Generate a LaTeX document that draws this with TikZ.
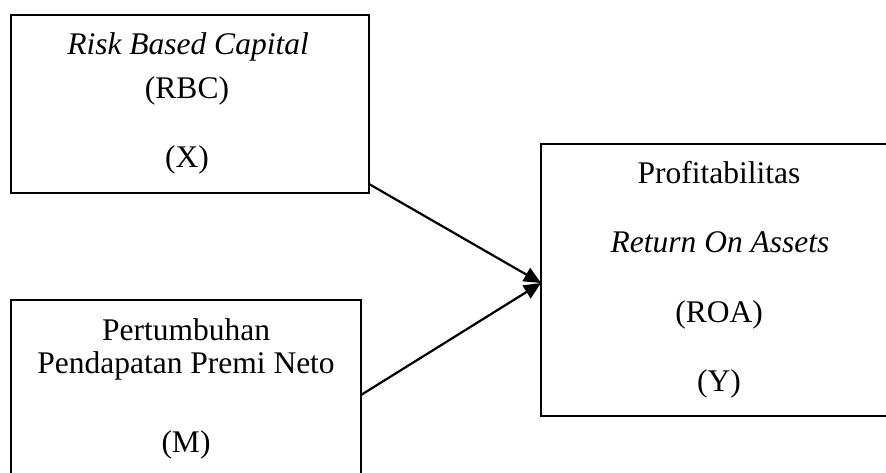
\documentclass[tikz,border=0pt]{standalone}
\usepackage{fontspec}
\setmainfont{Liberation Serif}
\usetikzlibrary{arrows.meta,calc}
\begin{document}
\begin{tikzpicture}[x=1pt,y=-1pt,
  box/.style={draw, line width=2pt, rectangle, inner sep=0pt, outer sep=0pt, anchor=north west},
  lbl/.style={anchor=base, inner sep=0pt, font=\fontsize{31.5}{38}\selectfont},
  link/.style={line width=2.2pt, -{Triangle[length=17pt,width=15pt]}}]
\useasboundingbox (0,0) rectangle (886,472);
\clip (0,0) rectangle (886,472);
% boxes
\node[box, minimum width=358pt, minimum height=178pt] (rbc) at (11,15) {};
\node[box, minimum width=350pt, minimum height=180pt] (ppn) at (11,300) {};
\node[box, minimum width=356pt, minimum height=272pt] (roa) at (541,144) {};
% texts box 1
\node[lbl] (rbc1) at (188,54) {\itshape Risk Based Capital};
\node[lbl] (rbc2) at (187,98) {(RBC)};
\node[lbl] (rbc3) at (187,167) {(X)};
% texts box 2
\node[lbl] (ppn1) at (186,340) {Pertumbuhan};
\node[lbl] (ppn2) at (186,373) {Pendapatan Premi Neto};
\node[lbl] (ppn3) at (186,452) {(M)};
% texts box 3
\node[lbl] (roa1) at (719,183) {Profitabilitas};
\node[lbl] (roa2) at (720,252) {\itshape Return On Assets};
\node[lbl] (roa3) at (719,322) {(ROA)};
\node[lbl] (roa4) at (719,391) {(Y)};
% connectors
\coordinate (s1) at ($(rbc.south east)+(0,-9)$);
\coordinate (s2) at ($(ppn.east)+(0,5)$);
\coordinate (t) at ($(roa.west)+(0,3)$);
\draw[link] (s1) -- (t);
\draw[link] (s2) -- (t);
\end{tikzpicture}
\end{document}
